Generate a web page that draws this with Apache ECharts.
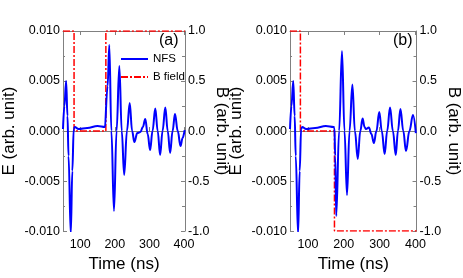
<!DOCTYPE html>
<html>
<head>
<meta charset="utf-8">
<script src="https://cdn.jsdelivr.net/npm/echarts@6/dist/echarts.min.js"></script>
<style>
html,body{margin:0;padding:0;background:#fff;}
#chart{width:463px;height:278px;}
</style>
</head>
<body>
<div id="chart"></div>
<script>
// ---- data ----
const xTicks = [100, 200, 300, 400];
const eTicks = [-0.010, -0.005, 0.000, 0.005, 0.010];
const bTicks = [-1.0, -0.5, 0.0, 0.5, 1.0];

// NFS signal, panel (a): time (ns)
const nfsA_t = [50, 54, 59, 63, 66, 72.5, 77, 81, 84, 95, 120, 150, 172,
  174, 179, 184, 190, 197.5, 205, 213, 220, 227, 235, 243, 250, 256.5,
  265, 274, 281, 288, 295, 302, 309, 317, 324, 331, 338, 346, 353, 360,
  367, 374, 382, 390, 396, 402];
// NFS signal, panel (a): E (arb. unit)
const nfsA_e = [0.0002, 0.0025, 0.0050, 0.0015, -0.0025, -0.0103, -0.0040, 0.0002, 0.0004, 0.0002, 0.0003, 0.0005, 0.0004,
  0.0004, 0.0045, 0.0086, 0.0000, -0.0080, 0.0000, 0.0065, 0.0000, -0.0044, 0.0000, 0.0028, 0.0000, -0.0011,
  -0.0002, -0.0001, 0.0004, 0.0012, -0.0003, -0.0019, 0.0000, 0.00225, 0.0000, -0.0024, 0.0000, 0.00235, 0.0000, -0.0022,
  0.0000, 0.0017, 0.0000, -0.0015, -0.0007, 0.0001];

// NFS signal, panel (b): time (ns)
const nfsB_t = [50, 54, 59, 63, 66, 72.5, 77, 81, 84, 95, 120, 150, 172,
  174, 176, 179, 187, 195, 202, 209, 216, 224, 231, 239, 246, 252.5,
  258, 262, 270, 277, 284, 291, 299, 306, 314, 321, 329, 337, 345, 351,
  358, 366, 373.5, 383, 393, 401];
// NFS signal, panel (b): E (arb. unit)
const nfsB_e = [0.0002, 0.0025, 0.0050, 0.0015, -0.0025, -0.0103, -0.0040, 0.0002, 0.0004, 0.0002, 0.0003, 0.0005, 0.0004,
  0.0003, -0.0025, -0.0085, 0.0000, 0.0080, 0.0000, -0.0064, 0.0000, 0.00465, 0.0000, -0.0028, 0.0000, 0.00125,
  0.0004, 0.0002, 0.00036, -0.0003, -0.0012, 0.0000, 0.0019, 0.0000, -0.0023, 0.0000, 0.00235, 0.0000, -0.0024, 0.0000,
  0.0022, 0.0000, -0.0020, 0.0000, 0.0016, -0.0002];

// B field steps
const fieldA_t = [50, 82, 82, 174, 174, 403];
const fieldA_b = [1, 1, 0, 0, 1, 1];
const fieldB_t = [50, 79, 79, 174, 174, 403];
const fieldB_b = [1, 1, 0, 0, -1, -1];

// ---- build chart ----
const pair = (xs, ys) => xs.map((x, i) => [x, ys[i]]);
const FONT = 'Liberation Sans, Arial, sans-serif';
const AX = '#808080';

function xAxisBottom(gi) {
  return {
    type: 'value', gridIndex: gi, min: 50, max: 403, position: 'bottom',
    name: 'Time (ns)', nameLocation: 'middle', nameGap: 24,
    nameTextStyle: {fontFamily: FONT, fontSize: 17, color: '#000'},
    axisLine: {show: true, lineStyle: {color: AX, width: 1}},
    axisTick: {show: true, inside: true, length: 4, customValues: xTicks, lineStyle: {color: AX}},
    axisLabel: {customValues: xTicks, fontFamily: FONT, fontSize: 12.5, color: '#000', margin: 7},
    splitLine: {show: false}
  };
}
function xAxisTop(gi) {
  return {
    type: 'value', gridIndex: gi, min: 50, max: 403, position: 'top',
    axisLine: {show: true, onZero: false, lineStyle: {color: AX, width: 1}},
    axisTick: {show: true, inside: true, length: 4, customValues: xTicks, lineStyle: {color: AX}},
    axisLabel: {show: false},
    splitLine: {show: false}
  };
}
function eAxis(gi) {
  return {
    type: 'value', gridIndex: gi, min: -0.01, max: 0.01, interval: 0.005, position: 'left',
    name: 'E (arb. unit)', nameLocation: 'middle', nameGap: 45, nameRotate: 90,
    nameTextStyle: {fontFamily: FONT, fontSize: 17, color: '#000'},
    axisLine: {show: true, onZero: false, lineStyle: {color: AX, width: 1}},
    axisTick: {show: true, inside: true, length: 4, lineStyle: {color: AX}},
    minorTick: {show: true, splitNumber: 2, length: 2, lineStyle: {color: AX}},
    axisLabel: {fontFamily: FONT, fontSize: 12.5, color: '#000', margin: 3,
      formatter: v => v.toFixed(3)},
    splitLine: {show: false}
  };
}
function bAxis(gi) {
  return {
    type: 'value', gridIndex: gi, min: -1, max: 1, interval: 0.5, position: 'right',
    name: 'B (arb. unit)', nameLocation: 'middle', nameGap: 27, nameRotate: -90,
    nameTextStyle: {fontFamily: FONT, fontSize: 17, color: '#000'},
    axisLine: {show: true, onZero: false, lineStyle: {color: AX, width: 1}},
    axisTick: {show: true, inside: true, length: 4, lineStyle: {color: AX}},
    minorTick: {show: true, splitNumber: 2, length: 3, lineStyle: {color: AX}},
    axisLabel: {fontFamily: FONT, fontSize: 12.5, color: '#000', margin: 3,
      formatter: v => v.toFixed(1)},
    splitLine: {show: false}
  };
}

const blue = {color: '#0000ff', width: 2};
const red = {color: '#ff0000', width: 1.5, type: [7, 2, 2, 2]};

const option = {
  animation: false,
  backgroundColor: '#fff',
  grid: [
    {left: 55, top: 31, width: 130, height: 202},
    {left: 290, top: 31, width: 129, height: 202}
  ],
  xAxis: [xAxisBottom(0), xAxisTop(0), xAxisBottom(1), xAxisTop(1)],
  yAxis: [eAxis(0), bAxis(0), eAxis(1), bAxis(1)],
  legend: {
    orient: 'vertical', left: 115, top: 48, itemWidth: 27, itemHeight: 8, itemGap: 6,
    data: ['NFS', 'B field'],
    textStyle: {fontFamily: FONT, fontSize: 11.5, color: '#000'},
    itemStyle: {opacity: 0}
  },
  graphic: [
    {type: 'text', left: 159, top: 33, style: {text: '(a)', font: '16px ' + FONT, fill: '#000'}},
    {type: 'text', left: 393, top: 33, style: {text: '(b)', font: '16px ' + FONT, fill: '#000'}}
  ],
  series: [
    {name: 'NFS', type: 'line', xAxisIndex: 0, yAxisIndex: 0, data: pair(nfsA_t, nfsA_e),
      showSymbol: false, symbol: 'none', smooth: 0.4, smoothMonotone: 'x', lineStyle: blue, itemStyle: {color: '#0000ff'}, z: 3},
    {name: 'B field', type: 'line', xAxisIndex: 0, yAxisIndex: 1, data: pair(fieldA_t, fieldA_b),
      showSymbol: false, symbol: 'none', lineStyle: red, itemStyle: {color: '#ff0000'}, z: 2},
    {name: 'NFS', type: 'line', xAxisIndex: 2, yAxisIndex: 2, data: pair(nfsB_t, nfsB_e),
      showSymbol: false, symbol: 'none', smooth: 0.4, smoothMonotone: 'x', lineStyle: blue, itemStyle: {color: '#0000ff'}, z: 3},
    {name: 'B field', type: 'line', xAxisIndex: 2, yAxisIndex: 3, data: pair(fieldB_t, fieldB_b),
      showSymbol: false, symbol: 'none', lineStyle: red, itemStyle: {color: '#ff0000'}, z: 2}
  ]
};

const chart = echarts.init(document.getElementById('chart'), null, {renderer: 'canvas'});
chart.setOption(option);
</script>
</body>
</html>
